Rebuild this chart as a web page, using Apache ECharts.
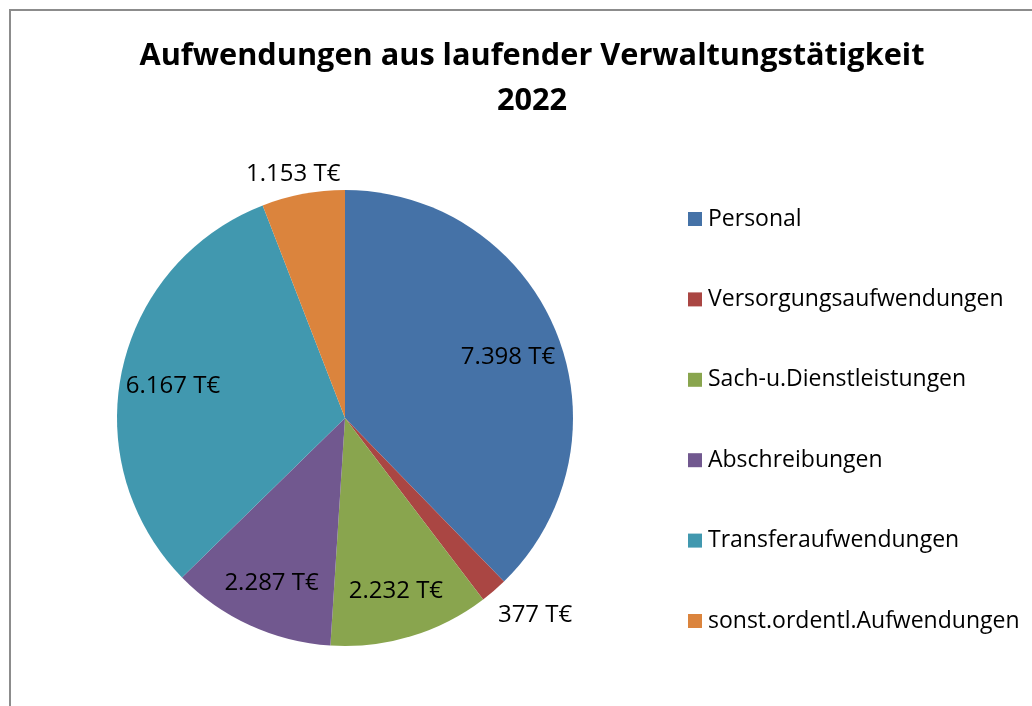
<!DOCTYPE html>
<html>
<head>
<meta charset="utf-8">
<script src="https://cdn.jsdelivr.net/npm/echarts@6/dist/echarts.min.js"></script>
<style>
  html, body { margin: 0; padding: 0; background: #fff; }
  #main { position: absolute; left: 0; top: 0; width: 1032px; height: 706px; }
  #frame { position: absolute; left: 9px; top: 9px; width: 1100px; height: 800px;
           border: 2px solid #8c8c8c; box-sizing: border-box; }
</style>
</head>
<body>
<div id="frame"></div>
<div id="main"></div>
<script>
// Daten (T€)
var categories = ['Personal', 'Versorgungsaufwendungen', 'Sach-u.Dienstleistungen',
                  'Abschreibungen', 'Transferaufwendungen', 'sonst.ordentl.Aufwendungen'];
var values = [7398, 377, 2232, 2287, 6167, 1153];
var colors = ['#4572A7', '#AA4643', '#89A54E', '#71588F', '#4198AF', '#DB843D'];
// kleine Segmente bekommen die Beschriftung außen
var outsideLabel = [false, true, false, false, false, true];

function fmt(v) {
    return v.toLocaleString('de-DE') + ' T€';
}

var font = 'Open Sans';
var myChart = echarts.init(document.getElementById('main'), null, {renderer: 'canvas'});

var pieData = categories.map(function (name, i) {
    return { name: name, value: values[i], itemStyle: { color: colors[i] } };
});

// Beschriftungen: innen (über eine transparente Ringserie) und außen
var innerLabels = categories.map(function (name, i) {
    return {
        name: name, value: values[i],
        label: { show: !outsideLabel[i] }
    };
});
var outerLabels = categories.map(function (name, i) {
    var item = { name: name, value: values[i], label: { show: outsideLabel[i] } };
    if (i == 1) item.label.offset = [-14, 9];
    if (i == 5) item.label.offset = [46, 0];
    return item;
});

var option = {
    animation: false,
    backgroundColor: 'transparent',
    title: {
        text: 'Aufwendungen aus laufender Verwaltungstätigkeit\n2022',
        left: 527,
        top: 29,
        textAlign: 'center',
        textStyle: { fontFamily: font, fontSize: 30.7, fontWeight: 'bold', color: '#000', lineHeight: 45 }
    },
    legend: {
        orient: 'vertical',
        left: 683,
        top: 202,
        itemWidth: 14,
        itemHeight: 14,
        itemGap: 56.4,
        icon: 'rect',
        data: categories,
        textStyle: { fontFamily: font, fontSize: 23, color: '#000', lineHeight: 24, padding: [0, 0, 0, 1] }
    },
    series: [{
        name: 'Aufwendungen',
        type: 'pie',
        center: [345, 418],
        radius: [0, 228],
        startAngle: 90,
        clockwise: true,
        legendHoverLink: false,
        itemStyle: { borderWidth: 0 },
        label: { show: false },
        labelLine: { show: false },
        emphasis: { disabled: true },
        data: pieData
    }, {
        type: 'pie',
        center: [345, 418],
        radius: [118, 228],
        startAngle: 90,
        clockwise: true,
        silent: true,
        itemStyle: { color: 'transparent', borderWidth: 0 },
        label: {
            position: 'inside',
            offset: [0, 5],
            fontFamily: font, fontSize: 24, color: '#000',
            formatter: function (p) { return fmt(p.value); }
        },
        labelLine: { show: false },
        data: innerLabels
    }, {
        type: 'pie',
        center: [345, 418],
        radius: [0, 228],
        startAngle: 90,
        clockwise: true,
        silent: true,
        itemStyle: { color: 'transparent', borderWidth: 0 },
        label: {
            position: 'outside',
            fontFamily: font, fontSize: 24, color: '#000',
            formatter: function (p) { return fmt(p.value); }
        },
        labelLine: { show: false, length: 20, length2: 0 },
        data: outerLabels
    }]
};
myChart.setOption(option);
</script>
</body>
</html>
